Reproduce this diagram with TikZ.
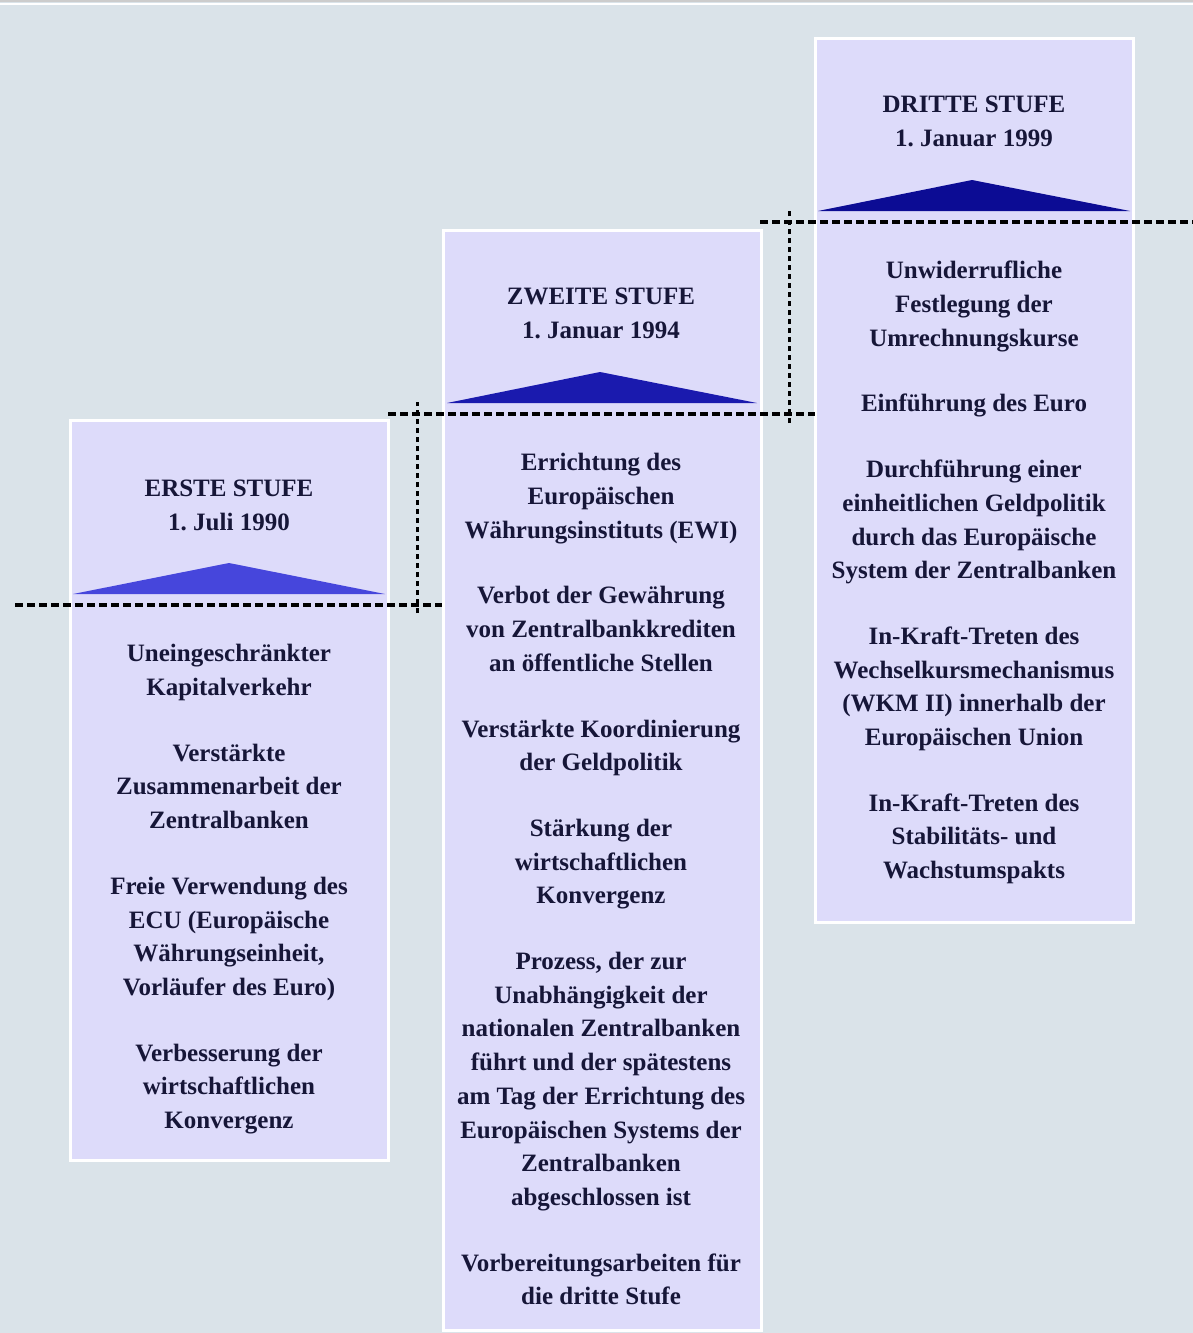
\documentclass[tikz,border=0pt]{standalone}
\usepackage{fontspec}
\setmainfont{Liberation Serif}
\usepackage{tikz}
\usetikzlibrary{positioning, calc}
\definecolor{bgblue}{RGB}{218,227,233}
\definecolor{lavender}{RGB}{221,219,250}
\definecolor{navytext}{RGB}{22,22,56}
\definecolor{triA}{RGB}{70,70,220}
\definecolor{triB}{RGB}{26,26,174}
\definecolor{triC}{RGB}{12,12,148}

\begin{document}
\begin{tikzpicture}[x=1pt,y=-1pt]
	\def \stepone{605}
	\def \steptwo{414}
	\def \stepthree{222}

	\tikzstyle{stage}=[draw=white,line width=3pt,fill=lavender,inner sep=0pt,minimum width=318pt]
	\tikzstyle{hdash}=[draw=black,line width=3.5pt,dash pattern=on 8pt off 4pt]
	\tikzstyle{vdash}=[draw=black,line width=3pt,dash pattern=on 5pt off 4pt]
	\tikzstyle{txt}=[text=navytext,font=\fontsize{25}{33.7}\selectfont\bfseries,align=center,anchor=north,inner sep=0pt]

	% page
	\fill[bgblue] (0,0) rectangle (1193,1333);
	\useasboundingbox (0,0) rectangle (1193,1333);
	\draw[gray!40,line width=2pt] (0,1) -- (1193,1);
	\draw[white,line width=2pt] (0,4) -- (1193,4);

	% boxes
	\node[stage,minimum height=740pt] 	(box1)	at (229,790)	{};
	\node[stage,minimum height=1100pt] 	(box2)	at (602,780)	{};
	\node[stage,minimum height=884pt] 	(box3)	at (974,480)	{};

	% triangles
	\fill[triA] (73,594) -- (229,563) -- (385,594) -- cycle;
	\fill[triB] (447,403) -- (600,372) -- (757,403) -- cycle;
	\fill[triC] (818,211) -- (972,180) -- (1130,211) -- cycle;

	% steps
	\draw[hdash] (15,\stepone) -- (442,\stepone);
	\draw[vdash] (417,613) -- (417,402);
	\draw[hdash] (388,\steptwo) -- (815,\steptwo);
	\draw[vdash] (789,423) -- (789,210);
	\draw[hdash] (760,\stepthree) -- (1193,\stepthree);

	% headers
	\node[txt] 	(head1)	at (229,473)	{\strut ERSTE STUFE\\1.\ Juli 1990};
	\node[txt] 	(head2)	at (601,281)	{\strut ZWEITE STUFE\\1.\ Januar 1994};
	\node[txt] 	(head3)	at (974,89)	{\strut DRITTE STUFE\\1.\ Januar 1999};

	% measures
	\node[txt] 	(body1)	at (229,638)	{\strut Uneingeschränkter\\Kapitalverkehr\\[32pt]
		Verstärkte\\Zusammenarbeit der\\Zentralbanken\\[32pt]
		Freie Verwendung des\\ECU (Europäische\\Währungseinheit,\\Vorläufer des Euro)\\[32pt]
		Verbesserung der\\wirtschaftlichen\\Konvergenz};
	\node[txt] 	(body2)	at (601,447)	{\strut Errichtung des\\Europäischen\\Währungsinstituts (EWI)\\[32pt]
		Verbot der Gewährung\\von Zentralbankkrediten\\an öffentliche Stellen\\[32pt]
		Verstärkte Koordinierung\\der Geldpolitik\\[32pt]
		Stärkung der\\wirtschaftlichen\\Konvergenz\\[32pt]
		Prozess, der zur\\Unabhängigkeit der\\nationalen Zentralbanken\\führt und der spätestens\\am Tag der Errichtung des\\Europäischen Systems der\\Zentralbanken\\abgeschlossen ist\\[32pt]
		Vorbereitungsarbeiten für\\die dritte Stufe};
	\node[txt] 	(body3)	at (974,255)	{\strut Unwiderrufliche\\Festlegung der\\Umrechnungskurse\\[32pt]
		Einführung des Euro\\[32pt]
		Durchführung einer\\einheitlichen Geldpolitik\\durch das Europäische\\System der Zentralbanken\\[32pt]
		In-Kraft-Treten des\\Wechselkursmechanismus\\(WKM II) innerhalb der\\Europäischen Union\\[32pt]
		In-Kraft-Treten des\\Stabilitäts- und\\Wachstumspakts};
\end{tikzpicture}
\end{document}
